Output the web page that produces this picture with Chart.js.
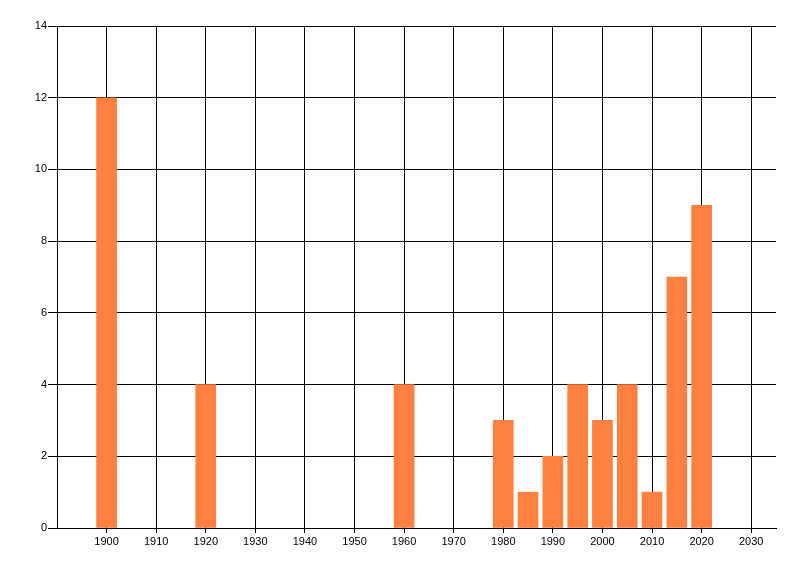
<!DOCTYPE html>
<html>
<head>
<meta charset="utf-8">
<script src="https://cdn.jsdelivr.net/npm/chart.js"></script>
<style>
  body { margin: 0; background: #fff; }
  #wrap { width: 800px; height: 576px; }
</style>
</head>
<body>
<div id="wrap"><canvas id="yearChart" width="800" height="576"></canvas></div>
<script>
// Counts per year (bars)
const years = [1900, 1920, 1960, 1980, 1985, 1990, 1995, 2000, 2005, 2010, 2015, 2020];
const counts = [12, 4, 4, 3, 1, 2, 4, 3, 4, 1, 7, 9];

// Axis ticks
const xTicks = [1900, 1910, 1920, 1930, 1940, 1950, 1960, 1970, 1980, 1990, 2000, 2010, 2020, 2030];
const yTicks = [0, 2, 4, 6, 8, 10, 12, 14];
const xMin = 1890;
const xMax = 2035;

document.addEventListener('DOMContentLoaded', function() {
    const ctx = document.getElementById('yearChart').getContext('2d');

    const points = years.map(function(y, i) {
        return { x: y, y: counts[i] };
    });

    new Chart(ctx, {
        type: 'bar',
        data: {
            datasets: [{
                data: points,
                backgroundColor: '#FF8040',
                borderWidth: 0,
                barThickness: 20
            }]
        },
        options: {
            responsive: false,
            animation: false,
            devicePixelRatio: 1,
            layout: {
                padding: { top: 26, right: 24, left: 0, bottom: 0 }
            },
            plugins: {
                legend: { display: false },
                tooltip: { enabled: false }
            },
            scales: {
                x: {
                    type: 'linear',
                    min: xMin,
                    max: xMax,
                    offset: false,
                    afterBuildTicks: function(scale) {
                        scale.ticks = xTicks.map(function(v) { return { value: v }; });
                    },
                    afterFit: function(scale) {
                        scale.height = 48;
                    },
                    grid: {
                        offset: false,
                        color: '#000',
                        lineWidth: 1,
                        tickLength: 5,
                        tickColor: '#000'
                    },
                    border: { color: '#000', width: 1 },
                    ticks: {
                        color: '#000',
                        padding: 2,
                        maxRotation: 0,
                        autoSkip: false,
                        font: { family: 'Liberation Sans', size: 11 },
                        callback: function(value) { return String(value); }
                    }
                },
                y: {
                    min: 0,
                    max: 14,
                    afterBuildTicks: function(scale) {
                        scale.ticks = yTicks.map(function(v) { return { value: v }; });
                    },
                    afterFit: function(scale) {
                        scale.width = 57;
                    },
                    grid: {
                        color: '#000',
                        lineWidth: 1,
                        tickLength: 9,
                        tickColor: '#000'
                    },
                    border: { color: '#000', width: 1 },
                    ticks: {
                        color: '#000',
                        padding: 1,
                        font: { family: 'Liberation Sans', size: 11 }
                    }
                }
            }
        }
    });
});
</script>
</body>
</html>
